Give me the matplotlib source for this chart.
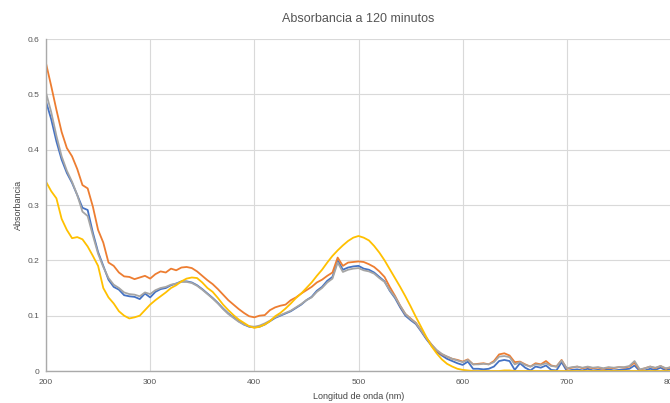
import numpy as np
import matplotlib
matplotlib.use("Agg")
import matplotlib.pyplot as plt

plt.rcParams['font.family'] = ['Liberation Sans', 'DejaVu Sans']

# wavelengths (nm), every 5 nm from 200 to 800
longitud = list(range(200, 805, 5))

serie_azul = [
    0.487, 0.455, 0.415, 0.382, 0.358, 0.340, 0.318, 0.295, 0.291, 0.250,
    0.215, 0.190, 0.165, 0.152, 0.147, 0.137, 0.135, 0.134, 0.130, 0.140,
    0.133, 0.143, 0.148, 0.150, 0.155, 0.158, 0.162, 0.162, 0.160, 0.155,
    0.148, 0.140, 0.132, 0.123, 0.113, 0.104, 0.097, 0.090, 0.084, 0.080,
    0.079, 0.080, 0.084, 0.090, 0.096, 0.100, 0.104, 0.108, 0.114, 0.120,
    0.128, 0.134, 0.145, 0.152, 0.163, 0.170, 0.200, 0.183, 0.187, 0.189,
    0.190, 0.185, 0.183, 0.178, 0.170, 0.162, 0.145, 0.132, 0.115, 0.100,
    0.092, 0.085, 0.072, 0.058, 0.046, 0.035, 0.028, 0.022, 0.018, 0.014,
    0.011, 0.017, 0.004, 0.004, 0.003, 0.004, 0.008, 0.018, 0.020, 0.018,
    0.002, 0.014, 0.006, 0.001, 0.008, 0.006, 0.010, 0.002, 0.001, 0.016,
    0.000, 0.002, 0.003, 0.001, 0.004, 0.001, 0.002, 0.001, 0.003, 0.001,
    0.002, 0.003, 0.004, 0.010, 0.000, 0.001, 0.004, 0.002, 0.006, 0.001,
    0.004,
]

serie_naranja = [
    0.556, 0.515, 0.472, 0.432, 0.403, 0.388, 0.365, 0.336, 0.330, 0.297,
    0.255, 0.232, 0.196, 0.190, 0.178, 0.171, 0.170, 0.166, 0.169, 0.172,
    0.167, 0.175, 0.180, 0.178, 0.185, 0.182, 0.187, 0.188, 0.186, 0.180,
    0.172, 0.164, 0.157, 0.148, 0.138, 0.128, 0.120, 0.112, 0.105, 0.099,
    0.097, 0.100, 0.101, 0.110, 0.115, 0.118, 0.120, 0.128, 0.133, 0.140,
    0.146, 0.152, 0.160, 0.165, 0.172, 0.178, 0.205, 0.190, 0.196, 0.197,
    0.198, 0.197, 0.193, 0.188, 0.180, 0.170, 0.152, 0.136, 0.118, 0.103,
    0.095, 0.087, 0.074, 0.060, 0.048, 0.037, 0.030, 0.026, 0.022, 0.020,
    0.017, 0.021, 0.012, 0.013, 0.014, 0.012, 0.018, 0.030, 0.032, 0.028,
    0.016, 0.017, 0.012, 0.008, 0.014, 0.012, 0.018, 0.010, 0.008, 0.020,
    0.004, 0.006, 0.008, 0.005, 0.007, 0.005, 0.006, 0.004, 0.006, 0.005,
    0.007, 0.006, 0.008, 0.015, 0.002, 0.005, 0.008, 0.005, 0.009, 0.004,
    0.007,
]

serie_gris = [
    0.503, 0.468, 0.425, 0.388, 0.362, 0.342, 0.318, 0.288, 0.280, 0.245,
    0.212, 0.188, 0.168, 0.156, 0.150, 0.142, 0.139, 0.138, 0.135, 0.142,
    0.139, 0.146, 0.150, 0.152, 0.156, 0.158, 0.161, 0.161, 0.159, 0.154,
    0.147, 0.139, 0.131, 0.122, 0.112, 0.103, 0.096, 0.089, 0.084, 0.081,
    0.080, 0.082, 0.086, 0.091, 0.097, 0.101, 0.105, 0.109, 0.115, 0.121,
    0.128, 0.133, 0.143, 0.150, 0.160, 0.167, 0.196, 0.179, 0.183, 0.185,
    0.186, 0.182, 0.180, 0.176, 0.168, 0.161, 0.146, 0.134, 0.118, 0.103,
    0.094, 0.087, 0.074, 0.060, 0.048, 0.038, 0.031, 0.026, 0.022, 0.019,
    0.016, 0.020, 0.012, 0.012, 0.013, 0.012, 0.016, 0.026, 0.027, 0.025,
    0.012, 0.016, 0.011, 0.008, 0.012, 0.011, 0.014, 0.009, 0.008, 0.019,
    0.005, 0.007, 0.008, 0.006, 0.008, 0.006, 0.007, 0.005, 0.007, 0.006,
    0.007, 0.007, 0.009, 0.018, 0.003, 0.005, 0.008, 0.006, 0.009, 0.005,
    0.007,
]

serie_amarilla = [
    0.342, 0.325, 0.312, 0.275, 0.255, 0.240, 0.242, 0.238, 0.225, 0.208,
    0.190, 0.150, 0.133, 0.122, 0.108, 0.100, 0.095, 0.097, 0.100, 0.110,
    0.120, 0.128, 0.135, 0.142, 0.150, 0.155, 0.162, 0.167, 0.169, 0.168,
    0.160, 0.150, 0.143, 0.132, 0.120, 0.110, 0.101, 0.093, 0.087, 0.081,
    0.078, 0.080, 0.084, 0.090, 0.099, 0.105, 0.113, 0.122, 0.132, 0.140,
    0.150, 0.160, 0.172, 0.183, 0.196, 0.208, 0.218, 0.227, 0.235, 0.241,
    0.244, 0.241, 0.236, 0.226, 0.214, 0.200, 0.184, 0.168, 0.152, 0.135,
    0.117, 0.098, 0.080, 0.062, 0.045, 0.032, 0.021, 0.013, 0.008, 0.004,
    0.002, 0.001, 0.000, 0.000, 0.000, 0.000, 0.000, 0.000, 0.001, 0.001,
    0.000, 0.000, 0.000, 0.000, 0.000, 0.000, 0.000, 0.000, 0.000, 0.000,
    0.000, 0.000, 0.000, 0.000, 0.000, 0.000, 0.000, 0.000, 0.000, 0.000,
    0.000, 0.000, 0.000, 0.000, 0.000, 0.000, 0.000, 0.000, 0.000, 0.000,
    0.000,
]

x_ticks = [200, 300, 400, 500, 600, 700, 800]
y_ticks = [0, 0.1, 0.2, 0.3, 0.4, 0.5, 0.6]
y_labels = ['0', '0.1', '0.2', '0.3', '0.4', '0.5', '0.6']

fig = plt.figure(figsize=(6.70, 4.03), dpi=100)
ax = fig.add_axes([46 / 670, 32 / 403, 625 / 670, 332 / 403])

# series drawn in sheet order, later ones on top
ax.plot(longitud, serie_azul, color='#4472C4', lw=1.3)
ax.plot(longitud, serie_naranja, color='#ED7D31', lw=1.3)
ax.plot(longitud, serie_gris, color='#A5A5A5', lw=1.3)
ax.plot(longitud, serie_amarilla, color='#FFC000', lw=1.3)

ax.set_xlim(200, 800)
ax.set_ylim(0, 0.6)
ax.set_xticks(x_ticks)
ax.set_yticks(y_ticks)
ax.set_yticklabels(y_labels)
ax.tick_params(length=0, labelsize=6, colors='#555555')
ax.tick_params(axis='y', pad=5)
ax.tick_params(axis='x', pad=6)

ax.grid(True, color='#d9d9d9', lw=0.8)
ax.set_axisbelow(True)
for s in ['top', 'right']:
    ax.spines[s].set_visible(False)
for s in ['left', 'bottom']:
    ax.spines[s].set_color('#aaaaaa')
    ax.spines[s].set_linewidth(1.0)

ax.set_title('Absorbancia a 120 minutos', fontsize=9, color='#555555', pad=12)
ax.set_xlabel('Longitud de onda (nm)', fontsize=6.5, color='#444444', labelpad=4)
ax.set_ylabel('Absorbancia', fontsize=6.5, color='#444444', labelpad=3)

fig.savefig('out.png', dpi=100)
